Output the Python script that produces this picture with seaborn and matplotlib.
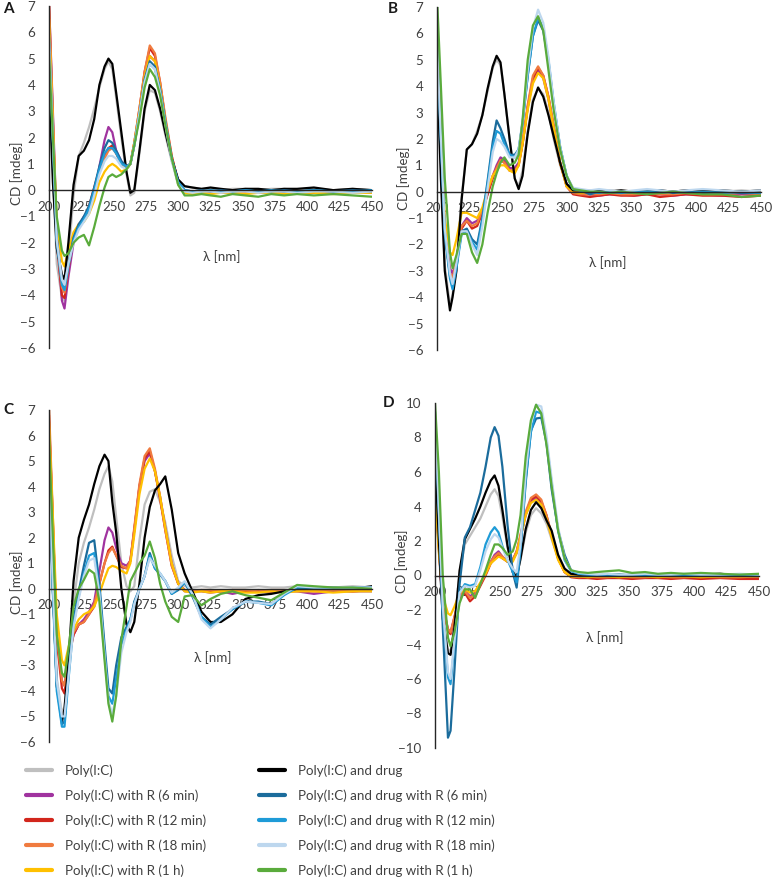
import matplotlib
matplotlib.use("Agg")
import matplotlib.pyplot as plt
import seaborn as sns
import pandas as pd
from matplotlib.lines import Line2D

# wavelengths (nm) shared by all spectra
wl = [200, 203, 206, 210, 212, 215, 219, 223, 227, 231,
      235, 239, 243, 246, 249, 252, 256, 260, 263, 266,
      270, 274, 278, 282, 286, 290, 295, 300, 305, 311,
      318, 325, 333, 342, 352, 362, 372, 382, 392, 405,
      420, 435, 450]

names = ["Poly(I:C)", "Poly(I:C) with R (6 min)", "Poly(I:C) with R (12 min)",
         "Poly(I:C) with R (18 min)", "Poly(I:C) with R (1 h)",
         "Poly(I:C) and drug", "Poly(I:C) and drug with R (6 min)",
         "Poly(I:C) and drug with R (12 min)", "Poly(I:C) and drug with R (18 min)",
         "Poly(I:C) and drug with R (1 h)"]
colors = ["#bfbfbf", "#a0339f", "#d2261c", "#f07b3f", "#ffc000",
          "#000000", "#1b6c9c", "#1e9bd7", "#bdd7ee", "#5aab3c"]

# ---------------- panel A ----------------
A_gray = [4.8, 0.8, -2.8, -4.1, -4.2, -2.6, -0.2, 1.3, 1.8, 2.4,
          3.1, 3.9, 4.6, 4.9, 4.6, 3.5, 2.0, 0.6, -0.2, -0.1,
          1.4, 3.0, 3.8, 3.7, 3.0, 2.1, 1.1, 0.4, 0.15, 0.1,
          0.05, 0.05, 0.0, 0.05, 0.05, 0.0, 0.05, 0.05, 0.0, 0.05,
          0.0, 0.05, 0.0]
A_r6 = [7.2, 3.0, -1.5, -4.2, -4.5, -3.3, -2.0, -1.4, -1.0, -0.8,
        -0.2, 0.9, 1.9, 2.4, 2.2, 1.5, 1.1, 0.9, 1.0, 1.7,
        3.0, 4.3, 5.1, 4.9, 3.9, 2.6, 1.2, 0.3, -0.05, -0.1,
        -0.05, -0.1, -0.05, -0.1, -0.05, -0.1, -0.05, -0.1, -0.05, -0.1,
        -0.05, -0.05, -0.1]
A_r12 = [7.0, 2.6, -2.0, -4.0, -4.1, -3.0, -1.8, -1.3, -1.1, -0.6,
         0.1, 0.8, 1.3, 1.6, 1.7, 1.4, 1.0, 0.8, 1.0, 1.8,
         3.1, 4.5, 5.4, 5.1, 4.1, 2.7, 1.3, 0.3, -0.05, -0.1,
         -0.1, -0.05, -0.1, -0.05, -0.1, -0.1, -0.05, -0.1, -0.05, -0.1,
         -0.05, -0.1, 0.0]
A_r18 = [7.2, 2.8, -1.8, -3.7, -3.9, -2.9, -1.8, -1.3, -1.1, -0.7,
         0.0, 0.7, 1.2, 1.5, 1.6, 1.4, 1.0, 0.8, 1.0, 1.8,
         3.1, 4.5, 5.5, 5.2, 4.1, 2.8, 1.3, 0.3, -0.05, -0.1,
         -0.05, -0.1, -0.05, -0.05, -0.1, -0.05, -0.05, -0.1, -0.05, -0.05,
         -0.1, -0.05, -0.05]
A_r1h = [6.5, 2.5, -1.2, -2.7, -2.9, -2.3, -1.6, -1.3, -1.2, -0.9,
         -0.4, 0.3, 0.7, 0.9, 1.0, 0.9, 0.7, 0.8, 1.0, 1.8,
         3.0, 4.3, 5.1, 4.9, 3.9, 2.6, 1.2, 0.2, -0.1, -0.15,
         -0.1, -0.15, -0.1, -0.1, -0.15, -0.1, -0.1, -0.15, -0.1, -0.1,
         -0.15, -0.1, -0.1]
A_drug = [4.2, 0.3, -2.2, -3.2, -3.4, -2.0, 0.2, 1.3, 1.5, 1.9,
          2.7, 4.0, 4.7, 5.0, 4.8, 3.7, 2.2, 0.7, -0.1, 0.0,
          1.5, 3.1, 4.0, 3.8, 3.1, 2.2, 1.2, 0.4, 0.15, 0.1,
          0.05, 0.1, 0.05, 0.0, 0.05, 0.05, 0.0, 0.05, 0.05, 0.1,
          0.0, 0.05, 0.0]
A_d6 = [5.8, 2.0, -1.8, -3.5, -3.7, -2.8, -1.8, -1.3, -1.0, -0.6,
        0.1, 0.9, 1.6, 1.9, 1.8, 1.5, 1.1, 0.9, 1.0, 1.7,
        2.9, 4.2, 4.9, 4.7, 3.8, 2.6, 1.2, 0.3, 0.0, -0.05,
        0.0, -0.05, 0.0, -0.05, 0.0, -0.05, -0.05, 0.0, -0.05, 0.0,
        -0.05, 0.0, -0.05]
A_d12 = [5.6, 1.8, -2.0, -3.6, -3.8, -2.9, -1.9, -1.4, -1.1, -0.7,
         0.0, 0.8, 1.4, 1.6, 1.6, 1.4, 1.0, 0.9, 1.0, 1.7,
         2.9, 4.1, 4.8, 4.6, 3.8, 2.6, 1.2, 0.3, 0.0, -0.05,
         -0.05, 0.0, -0.05, -0.05, 0.0, -0.05, 0.0, -0.05, -0.05, 0.0,
         -0.05, -0.05, 0.0]
A_d18 = [5.9, 2.0, -1.9, -3.4, -3.6, -2.8, -2.0, -1.5, -1.2, -0.9,
         -0.2, 0.6, 1.1, 1.3, 1.3, 1.2, 0.9, 0.8, 1.0, 1.7,
         2.9, 4.1, 4.8, 4.6, 3.7, 2.5, 1.1, 0.2, -0.05, -0.1,
         -0.05, -0.05, -0.1, -0.05, -0.05, -0.1, -0.05, -0.05, -0.1, -0.05,
         -0.05, -0.1, -0.05]
A_d1h = [5.2, 2.0, -1.0, -2.3, -2.5, -2.4, -2.0, -1.8, -1.7, -2.1,
         -1.4, -0.6, 0.1, 0.5, 0.6, 0.5, 0.6, 0.8, 1.0, 1.7,
         2.7, 3.9, 4.6, 4.3, 3.6, 2.5, 1.2, 0.2, -0.2, -0.2,
         -0.15, -0.2, -0.25, -0.15, -0.2, -0.25, -0.15, -0.2, -0.15, -0.2,
         -0.15, -0.2, -0.25]

# ---------------- panel B ----------------
B_gray = [5.0, 1.0, -2.8, -4.3, -3.9, -2.7, -0.2, 1.6, 1.8, 2.3,
          2.9, 3.8, 4.7, 5.0, 4.8, 3.7, 2.0, 0.5, 0.2, 0.8,
          2.3, 3.5, 3.9, 3.7, 3.0, 2.0, 1.0, 0.3, 0.05, 0.05,
          0.05, 0.0, 0.05, 0.05, 0.0, 0.05, 0.05, 0.0, 0.05, 0.05,
          0.0, 0.05, 0.0]
B_r6 = [5.4, 2.0, -1.5, -2.9, -3.1, -2.6, -1.3, -1.0, -1.2, -1.1,
        -0.7, -0.1, 0.6, 1.0, 1.3, 1.2, 0.9, 0.9, 1.1, 1.8,
        3.2, 4.2, 4.6, 4.3, 3.5, 2.4, 1.1, 0.3, -0.05, -0.1,
        -0.1, -0.15, -0.1, -0.1, -0.15, -0.1, -0.1, -0.15, -0.1, -0.1,
        -0.15, -0.1, -0.1]
B_r12 = [5.6, 2.2, -1.6, -3.1, -3.3, -2.7, -1.4, -1.1, -1.4, -1.3,
         -0.8, -0.1, 0.5, 0.9, 1.2, 1.1, 0.8, 0.8, 1.0, 1.8,
         3.2, 4.3, 4.7, 4.4, 3.6, 2.5, 1.1, 0.2, -0.1, -0.15,
         -0.2, -0.15, -0.1, -0.15, -0.15, -0.1, -0.2, -0.15, -0.1, -0.15,
         -0.15, -0.2, -0.15]
B_r18 = [5.7, 2.3, -1.5, -3.1, -3.3, -2.6, -1.3, -1.1, -1.3, -1.2,
         -0.7, 0.0, 0.6, 0.9, 1.2, 1.1, 0.8, 0.8, 1.0, 1.9,
         3.3, 4.4, 4.75, 4.4, 3.6, 2.5, 1.1, 0.2, -0.05, -0.1,
         -0.1, -0.1, -0.05, -0.1, -0.1, -0.05, -0.1, -0.1, -0.05, -0.1,
         -0.1, -0.05, -0.1]
B_r1h = [5.2, 1.8, -1.0, -2.3, -2.4, -1.8, -0.8, -0.8, -0.9, -1.0,
         -0.6, 0.1, 0.6, 0.8, 1.0, 1.0, 0.8, 0.7, 1.0, 1.8,
         3.1, 4.1, 4.5, 4.3, 3.5, 2.4, 1.1, 0.2, 0.0, -0.05,
         0.0, -0.05, 0.0, 0.0, -0.05, 0.0, -0.05, 0.0, 0.0, -0.05,
         0.0, 0.0, 0.0]
B_drug = [4.7, 0.5, -3.0, -4.5, -4.0, -3.0, -0.3, 1.6, 1.8, 2.2,
          2.9, 3.9, 4.75, 5.15, 4.9, 3.7, 2.0, 0.5, 0.1, 0.6,
          2.2, 3.4, 3.95, 3.6, 2.9, 2.1, 1.1, 0.3, 0.05, 0.05,
          0.0, 0.05, 0.0, 0.05, 0.0, 0.0, 0.05, 0.0, 0.05, 0.05,
          0.05, 0.0, 0.05]
B_d6 = [5.6, 2.0, -1.5, -3.2, -3.6, -2.8, -1.5, -1.4, -1.8, -2.0,
        -1.0, 0.4, 1.9, 2.7, 2.4, 2.0, 1.4, 1.4, 1.6, 2.6,
        4.4, 5.9, 6.5, 6.1, 4.9, 3.3, 1.7, 0.6, 0.1, 0.05,
        -0.1, 0.0, -0.05, 0.0, -0.05, 0.0, 0.05, -0.05, 0.0, -0.05,
        0.0, -0.05, -0.05]
B_d12 = [5.5, 1.9, -1.6, -3.3, -3.7, -2.9, -1.6, -1.5, -1.9, -2.2,
         -1.1, 0.3, 1.7, 2.3, 2.2, 1.8, 1.4, 1.3, 1.6, 2.6,
         4.4, 5.9, 6.6, 6.2, 5.0, 3.4, 1.7, 0.6, 0.1, 0.05,
         0.0, -0.05, 0.0, -0.05, 0.0, 0.0, -0.05, 0.0, -0.05, 0.0,
         -0.05, 0.0, -0.05]
B_d18 = [5.7, 2.1, -1.4, -3.1, -3.5, -2.7, -1.5, -1.5, -2.0, -2.4,
         -1.3, 0.1, 1.5, 2.0, 1.9, 1.7, 1.3, 1.3, 1.6, 2.7,
         4.6, 6.2, 6.9, 6.4, 5.1, 3.4, 1.7, 0.6, 0.15, 0.1,
         0.05, 0.1, 0.05, 0.0, 0.05, 0.1, 0.05, 0.0, 0.05, 0.1,
         0.05, 0.0, 0.05]
B_d1h = [7.4, 4.0, 0.5, -2.3, -2.9, -2.4, -1.6, -1.6, -2.3, -2.7,
         -2.0, -0.8, 0.2, 0.7, 1.1, 1.3, 1.0, 1.1, 1.4, 2.7,
         5.0, 6.3, 6.65, 6.1, 4.6, 3.1, 1.6, 0.6, 0.1, 0.05,
         0.0, 0.0, -0.05, 0.0, -0.05, -0.1, -0.05, 0.0, -0.05, -0.1,
         -0.1, -0.2, -0.15]

# ---------------- panel C ----------------
C_gray = [5.0, 0.5, -3.5, -4.9, -4.6, -3.0, -0.6, 1.0, 1.8, 2.4,
          3.1, 3.9, 4.5, 4.8, 4.2, 2.8, 1.0, 0.1, -0.1, 0.1,
          1.9, 3.3, 3.8, 3.9, 3.4, 2.6, 1.3, 0.3, 0.1, 0.05,
          0.1, 0.05, 0.1, 0.05, 0.05, 0.1, 0.05, 0.05, 0.1, 0.05,
          0.05, 0.1, 0.05]
C_r6 = [6.6, 2.5, -1.8, -3.6, -3.8, -2.6, -1.8, -1.4, -1.2, -0.9,
        -0.5, 0.7, 1.9, 2.4, 2.2, 1.6, 1.0, 0.9, 1.1, 2.3,
        4.0, 5.0, 5.3, 4.6, 3.6, 2.4, 1.0, 0.2, -0.1, -0.1,
        -0.1, -0.15, -0.1, -0.2, -0.1, -0.1, -0.15, -0.1, -0.1, -0.2,
        -0.1, -0.1, -0.1]
C_r12 = [6.8, 2.6, -2.0, -3.9, -4.1, -2.8, -1.8, -1.4, -1.3, -1.0,
         -0.7, 0.2, 1.0, 1.5, 1.65, 1.3, 0.85, 0.8, 1.1, 2.3,
         4.0, 5.1, 5.4, 4.6, 3.5, 2.3, 0.9, 0.2, -0.05, -0.1,
         -0.05, -0.1, -0.1, -0.05, -0.1, -0.05, -0.1, -0.1, -0.05, -0.1,
         -0.05, -0.1, -0.05]
C_r18 = [7.2, 2.8, -1.8, -3.6, -3.8, -2.7, -1.7, -1.4, -1.3, -1.0,
         -0.6, 0.2, 1.0, 1.4, 1.6, 1.3, 0.9, 0.8, 1.1, 2.4,
         4.1, 5.2, 5.5, 4.7, 3.6, 2.3, 0.9, 0.2, -0.05, -0.1,
         -0.05, -0.05, -0.1, -0.05, -0.05, -0.1, -0.05, -0.05, -0.1, -0.05,
         -0.05, -0.1, -0.05]
C_r1h = [6.5, 2.8, -1.0, -2.8, -3.0, -2.3, -1.6, -1.2, -1.0, -0.9,
         -0.7, -0.2, 0.4, 0.8, 0.9, 0.85, 0.7, 0.6, 1.0, 2.1,
         3.7, 4.7, 5.1, 4.6, 3.6, 2.4, 1.0, 0.2, -0.1, -0.15,
         -0.1, -0.15, -0.1, -0.1, -0.15, -0.15, -0.1, -0.15, -0.1, -0.1,
         -0.15, -0.1, -0.1]
C_drug = [4.9, 0.0, -3.8, -5.2, -4.7, -2.9, 0.3, 2.0, 2.7, 3.3,
          4.1, 4.8, 5.25, 5.0, 3.4, 2.2, 0.0, -1.4, -1.7, -1.3,
          0.2, 2.0, 3.2, 3.85, 4.1, 4.4, 3.1, 1.4, 0.6, -0.1,
          -0.9, -1.3, -1.3, -1.0, -0.4, -0.25, -0.2, -0.1, 0.0, 0.05,
          0.05, 0.0, 0.1]
C_d6 = [4.5, 0.0, -3.8, -5.3, -5.2, -3.4, -1.2, -0.1, 0.9, 1.8,
        1.9, 0.2, -2.2, -3.9, -4.1, -3.0, -1.9, -1.5, -1.2, -0.5,
        0.0, 0.5, 1.4, 0.8, 0.55, 0.3, -0.2, -0.05, 0.25, -0.3,
        -1.1, -1.4, -1.1, -0.8, -0.5, -0.5, -0.6, -0.2, 0.05, 0.05,
        0.05, 0.0, 0.05]
C_d12 = [4.3, -0.2, -4.0, -5.4, -5.4, -3.6, -1.4, -0.3, 0.6, 1.3,
         1.4, -0.1, -2.5, -4.2, -4.5, -3.5, -2.2, -1.6, -1.2, -0.6,
         0.0, 0.5, 1.3, 0.8, 0.6, 0.3, -0.2, 0.0, 0.25, -0.2,
         -1.1, -1.5, -1.2, -0.8, -0.5, -0.55, -0.65, -0.25, 0.05, 0.05,
         0.0, 0.05, 0.05]
C_d18 = [4.6, 0.2, -3.6, -5.0, -5.0, -3.5, -1.5, -0.4, 0.5, 1.1,
         1.2, -0.2, -2.6, -4.4, -4.9, -4.2, -2.5, -1.7, -1.3, -0.6,
         0.0, 0.5, 1.2, 0.9, 0.6, 0.3, -0.15, 0.05, 0.3, -0.2,
         -1.2, -1.55, -1.2, -0.75, -0.5, -0.55, -0.6, -0.2, 0.1, 0.05,
         0.05, 0.05, 0.05]
C_d1h = [6.0, 2.0, -1.8, -3.3, -3.45, -2.4, -0.7, 0.0, 0.35, 0.75,
         0.6, -0.5, -2.8, -4.5, -5.2, -4.2, -2.0, -0.7, 0.3, 0.6,
         1.0, 1.3, 1.85, 1.2, 0.2, -0.5, -1.1, -1.3, -0.3, -0.25,
         -0.65, -0.4, -0.2, -0.1, -0.25, -0.35, -0.45, -0.15, 0.15, 0.1,
         0.05, 0.05, 0.0]

# ---------------- panel D ----------------
D_gray = [6.0, 1.5, -2.5, -4.3, -4.4, -2.8, 0.2, 1.8, 2.3, 2.8,
          3.3, 4.0, 4.7, 5.0, 4.6, 3.4, 1.6, 0.4, 0.0, 0.9,
          2.5, 3.5, 3.9, 3.6, 3.0, 2.1, 1.0, 0.3, 0.05, 0.05,
          0.0, 0.05, 0.05, 0.0, 0.05, 0.0, 0.05, 0.05, 0.0, 0.05,
          0.0, 0.05, 0.0]
D_r6 = [5.0, 1.5, -1.8, -3.1, -3.3, -2.4, -1.2, -0.9, -1.2, -1.0,
        -0.5, 0.1, 0.8, 1.2, 1.4, 1.1, 0.8, 0.9, 1.3, 2.2,
        3.5, 4.3, 4.5, 4.2, 3.4, 2.3, 1.0, 0.2, -0.05, -0.1,
        -0.1, -0.15, -0.1, -0.1, -0.15, -0.1, -0.1, -0.15, -0.1, -0.1,
        -0.1, -0.15, -0.1]
D_r12 = [5.3, 1.7, -1.9, -3.2, -3.4, -2.5, -1.3, -1.0, -1.5, -1.2,
         -0.6, 0.0, 0.7, 1.0, 1.2, 1.0, 0.8, 0.9, 1.4, 2.3,
         3.6, 4.4, 4.6, 4.3, 3.5, 2.3, 1.0, 0.2, -0.1, -0.15,
         -0.15, -0.2, -0.15, -0.15, -0.2, -0.15, -0.15, -0.2, -0.15, -0.2,
         -0.15, -0.2, -0.2]
D_r18 = [5.7, 1.9, -1.7, -3.1, -3.3, -2.4, -1.2, -0.9, -1.3, -1.1,
         -0.5, 0.1, 0.8, 1.1, 1.3, 1.1, 0.8, 0.9, 1.4, 2.4,
         3.7, 4.5, 4.7, 4.4, 3.5, 2.4, 1.0, 0.2, -0.05, -0.1,
         -0.05, -0.1, -0.1, -0.05, -0.1, -0.1, -0.05, -0.1, -0.1, -0.05,
         -0.1, -0.1, -0.05]
D_r1h = [4.8, 1.3, -1.2, -2.2, -2.3, -1.8, -1.0, -0.8, -1.0, -0.9,
         -0.4, 0.1, 0.7, 0.9, 1.1, 1.0, 0.8, 0.8, 1.3, 2.2,
         3.5, 4.2, 4.4, 4.1, 3.3, 2.2, 0.9, 0.2, -0.05, -0.05,
         -0.1, -0.05, -0.05, -0.1, -0.05, -0.05, -0.1, -0.05, -0.05, -0.1,
         -0.05, -0.05, -0.05]
D_drug = [7.0, 2.0, -2.5, -4.5, -4.6, -3.0, 0.3, 2.1, 2.7, 3.3,
          4.0, 4.8, 5.5, 5.8, 5.2, 3.8, 1.7, 0.2, -0.1, 1.0,
          2.7, 3.8, 4.25, 3.9, 3.2, 2.6, 1.2, 0.4, 0.1, 0.05,
          0.05, 0.0, 0.05, 0.05, 0.0, 0.05, 0.05, 0.0, 0.05, 0.05,
          0.1, 0.0, 0.05]
D_d6 = [9.5, 4.0, -3.0, -9.4, -9.0, -5.5, -0.5, 2.2, 2.8, 3.8,
        4.8, 6.3, 8.0, 8.6, 8.1, 6.3, 2.9, 0.2, -0.7, 1.5,
        5.4, 8.4, 9.1, 9.15, 7.7, 5.0, 2.65, 1.2, 0.3, 0.1,
        0.05, 0.0, 0.05, 0.0, 0.05, 0.0, 0.0, 0.05, 0.0, 0.05,
        0.0, 0.05, 0.0]
D_d12 = [9.0, 3.5, -2.0, -5.9, -6.3, -4.0, -1.0, -0.5, -0.6, -0.5,
         0.5, 1.8, 2.5, 2.8, 2.5, 1.7, 0.9, 0.2, -0.4, 1.6,
         5.6, 8.3, 9.5, 9.4, 7.8, 5.4, 2.6, 0.9, 0.25, 0.1,
         0.05, 0.0, 0.05, 0.05, 0.0, 0.05, 0.0, 0.05, 0.05, 0.0,
         0.05, 0.0, 0.05]
D_d18 = [9.3, 3.8, -1.8, -5.6, -6.0, -3.8, -1.0, -0.6, -0.7, -0.6,
         0.3, 1.4, 2.1, 2.4, 2.2, 1.6, 0.9, 0.4, 0.2, 1.8,
         6.0, 8.8, 9.9, 9.8, 8.1, 5.6, 2.8, 1.0, 0.3, 0.15,
         0.1, 0.05, 0.1, 0.05, 0.05, 0.1, 0.05, 0.05, 0.1, 0.05,
         0.05, 0.1, 0.05]
D_d1h = [10.0, 6.0, 0.0, -3.6, -4.1, -3.3, -1.6, -0.8, -0.8, -1.3,
         -0.5, 0.3, 1.2, 1.8, 1.8, 1.6, 1.2, 1.4, 2.1, 3.5,
         6.9, 9.0, 9.9, 9.4, 7.6, 5.2, 2.6, 1.0, 0.3, 0.2,
         0.15, 0.2, 0.25, 0.3, 0.15, 0.2, 0.1, 0.15, 0.1, 0.15,
         0.1, 0.05, 0.1]

panel_A = [A_gray, A_r6, A_r12, A_r18, A_r1h, A_drug, A_d6, A_d12, A_d18, A_d1h]
panel_B = [B_gray, B_r6, B_r12, B_r18, B_r1h, B_drug, B_d6, B_d12, B_d18, B_d1h]
panel_C = [C_gray, C_r6, C_r12, C_r18, C_r1h, C_drug, C_d6, C_d12, C_d18, C_d1h]
panel_D = [D_gray, D_r6, D_r12, D_r18, D_r1h, D_drug, D_d6, D_d12, D_d18, D_d1h]

sns.set_style("white")
plt.rcParams["font.family"] = ["Lato", "DejaVu Sans"]
txt = "#404040"
fs = 9.6

W, H = 774, 882
fig = plt.figure(figsize=(W / 100, H / 100), dpi=100)


def long_df(series):
    frames = []
    for nm, vals in zip(names, series):
        frames.append(pd.DataFrame({"nm": wl, "cd": vals, "series": nm}))
    return pd.concat(frames, ignore_index=True)


def panel(box, letter, letter_xy, series, ylim, yticks, ylab_y, xlab_xy):
    x0, y0, x1, y1 = box  # pixel box of the plotting area
    ax = fig.add_axes([x0 / W, 1 - y1 / H, (x1 - x0) / W, (y1 - y0) / H])
    sns.lineplot(data=long_df(series), x="nm", y="cd", hue="series",
                 hue_order=names, palette=colors, estimator=None,
                 linewidth=1.6, legend=False, ax=ax)
    ax.set_xlim(200, 450)
    ax.set_ylim(*ylim)
    ax.set_xticks(range(200, 451, 25))
    ax.set_yticks(yticks)
    for s in ["top", "right"]:
        ax.spines[s].set_visible(False)
    ax.spines["bottom"].set_position(("data", 0))
    for s in ["left", "bottom"]:
        ax.spines[s].set_color("#262626")
        ax.spines[s].set_linewidth(1.0)
    ax.tick_params(axis="x", direction="in", length=4, width=1, pad=7.5,
                   labelsize=fs, colors="#262626", labelcolor=txt)
    ax.tick_params(axis="y", direction="out", length=5, width=1, pad=5,
                   labelsize=fs, colors="#262626", labelcolor=txt)
    ax.set_xlabel("")
    ax.set_ylabel("CD [mdeg]", fontsize=fs, color=txt)
    ax.yaxis.set_label_coords(-0.082, ylab_y)
    ax.text(xlab_xy[0], xlab_xy[1], "λ [nm]", transform=ax.transAxes,
            ha="center", va="center", fontsize=fs, color=txt)
    fig.text(letter_xy[0] / W, 1 - letter_xy[1] / H, letter, fontsize=11,
             fontweight="bold", ha="center", va="center", color="#1a1a1a")
    return ax


panel((49, 6, 372, 348), "A", (8, 9), panel_A, (-6, 7), range(-6, 8), 0.51, (0.536, 0.266))
panel((437, 7, 761, 350), "B", (393, 9), panel_B, (-6, 7), range(-6, 8), 0.50, (0.528, 0.254))
panel((49, 410, 372, 742), "C", (8, 410), panel_C, (-6, 7), range(-6, 8), 0.48, (0.508, 0.253))
panel((435, 403, 759, 748), "D", (389, 403), panel_D, (-10, 10), range(-10, 11, 2), 0.54, (0.525, 0.319))

# legend, two columns of five entries
handles = [Line2D([], [], color=c, lw=3) for c in colors]
for col, x_px in ((0, 26), (1, 259)):
    idx = range(col * 5, col * 5 + 5)
    fig.legend([handles[i] for i in idx], [names[i] for i in idx],
               loc="upper left", bbox_to_anchor=(x_px / W, 1 - 764 / H),
               frameon=False, fontsize=fs, handlelength=1.95,
               handletextpad=0.95, labelspacing=0.94, borderpad=0,
               borderaxespad=0, labelcolor=txt)

fig.savefig("out.png", dpi=100)
